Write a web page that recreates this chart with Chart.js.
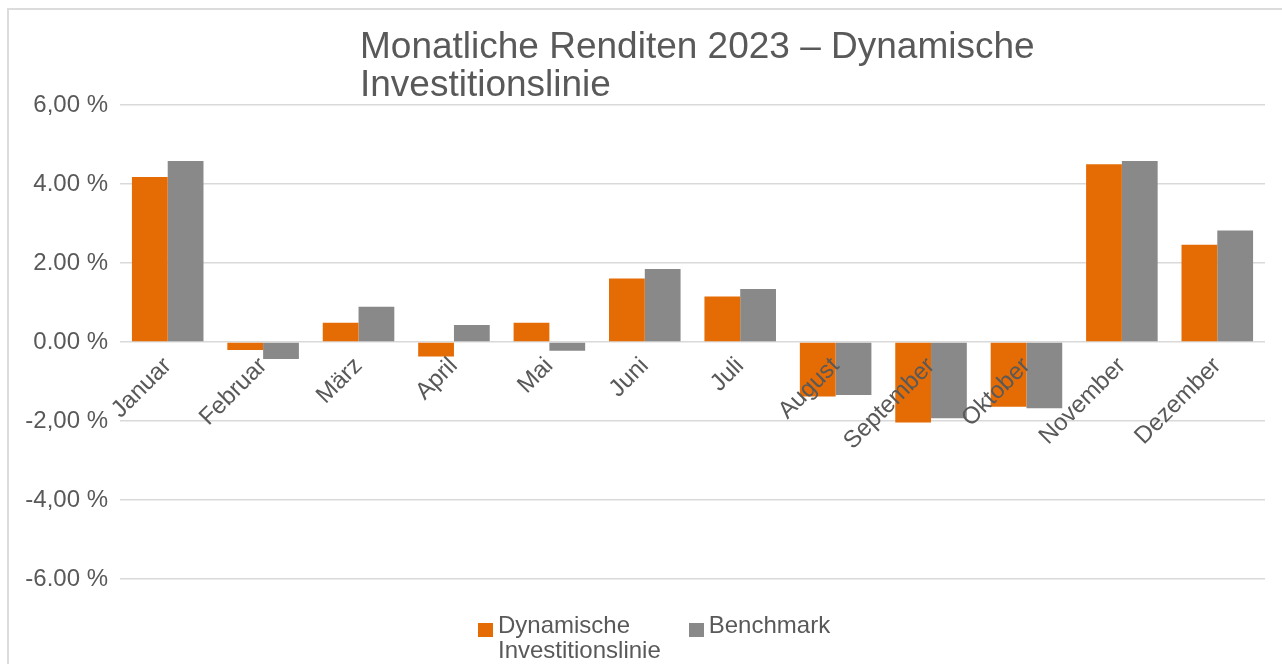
<!DOCTYPE html>
<html>
<head>
<meta charset="utf-8">
<script src="https://cdn.jsdelivr.net/npm/chart.js@4"></script>
<style>
  html, body { margin: 0; padding: 0; background: #fff; }
  #wrap { position: relative; width: 1282px; height: 664px; overflow: hidden; }
  #frame { position: absolute; left: 7px; top: 8px; width: 1300px; height: 700px;
           border-left: 2px solid #dcdcdc; border-top: 2px solid #dcdcdc; }
  #legend { position: absolute; left: 478px; top: 612px; display: flex;
            font-family: "Liberation Sans", Arial, sans-serif; font-size: 24px; color: #595959; }
  .item { display: flex; align-items: flex-start; line-height: 25px; }
  .box { width: 15px; height: 14px; margin: 11px 5px 0 0; flex: none; }
</style>
</head>
<body>
<div id="wrap">
  <div id="frame"></div>
  <canvas id="chart" width="1282" height="664"></canvas>
  <div id="legend"></div>
</div>
<script>
// Daten
const monate = ["Januar", "Februar", "März", "April", "Mai", "Juni", "Juli", "August", "September", "Oktober", "November", "Dezember"];
const dynamisch = [4.18, -0.2, 0.49, -0.37, 0.49, 1.61, 1.15, -1.38, -2.04, -1.64, 4.5, 2.46];
const benchmark = [4.58, -0.43, 0.89, 0.43, -0.22, 1.85, 1.34, -1.34, -1.93, -1.68, 4.58, 2.82];
const tickWerte = [6, 4, 2, 0, -2, -4, -6];
const tickTexte = ["6,00 %", "4.00 %", "2.00 %", "0.00 %", "-2,00 %", "-4,00 %", "-6.00 %"];
const serien = [["Dynamische", "Investitionslinie"], ["Benchmark"]];
const titel = ["Monatliche Renditen 2023 – Dynamische", "Investitionslinie"];

const ORANGE = "#E56C05";
const GRAU = "#898989";
const TEXT = "#595959";
const FONT = "'Liberation Sans', Arial, sans-serif";

// Titel links ausgerichtet, zwei Zeilen
const titelPlugin = {
  id: "titel",
  afterDraw(chart) {
    const ctx = chart.ctx;
    ctx.save();
    ctx.fillStyle = TEXT;
    ctx.font = "37px " + FONT;
    ctx.textBaseline = "alphabetic";
    ctx.textAlign = "left";
    titel.forEach((zeile, i) => ctx.fillText(zeile, 360, 58 + i * 38));
    ctx.restore();
  },
};

const CHART = document.querySelector("#chart");

let balken = new Chart(CHART, {
  type: "bar",
  data: {
    labels: monate,
    datasets: [
      {
        label: serien[0].join(" "),
        data: dynamisch,
        backgroundColor: ORANGE,
        categoryPercentage: 0.75,
        barPercentage: 1.0,
      },
      {
        label: serien[1].join(" "),
        data: benchmark,
        backgroundColor: GRAU,
        categoryPercentage: 0.75,
        barPercentage: 1.0,
      },
    ],
  },
  options: {
    responsive: false,
    animation: false,
    layout: { padding: { top: 105, bottom: 85, left: 0, right: 17 } },
    plugins: {
      legend: { display: false },
      title: { display: false },
      tooltip: { enabled: false },
    },
    scales: {
      x: {
        position: { y: 0 },
        grid: { display: false },
        border: { display: false },
        ticks: {
          z: 1,
          color: TEXT,
          font: { family: FONT, size: 24 },
          minRotation: 45,
          maxRotation: 45,
          autoSkip: false,
          padding: 2,
        },
      },
      y: {
        min: -6,
        max: 6,
        afterFit: (scale) => { scale.width = 120; },
        afterBuildTicks: (scale) => { scale.ticks = tickWerte.map((v) => ({ value: v })); },
        grid: { color: "#d9d9d9", lineWidth: 1.5, drawTicks: false },
        border: { display: false },
        ticks: {
          color: TEXT,
          font: { family: FONT, size: 24 },
          padding: 12,
          callback: (v) => tickTexte[tickWerte.indexOf(v)],
        },
      },
    },
  },
  plugins: [titelPlugin],
});

// Legende
const legende = document.querySelector("#legend");
[ORANGE, GRAU].forEach((farbe, i) => {
  const el = document.createElement("div");
  el.className = "item";
  el.style.marginRight = i === 0 ? "28px" : "0";
  el.innerHTML = '<span class="box" style="background:' + farbe + '"></span><span>' + serien[i].join("<br>") + "</span>";
  legende.appendChild(el);
});
</script>
</body>
</html>
